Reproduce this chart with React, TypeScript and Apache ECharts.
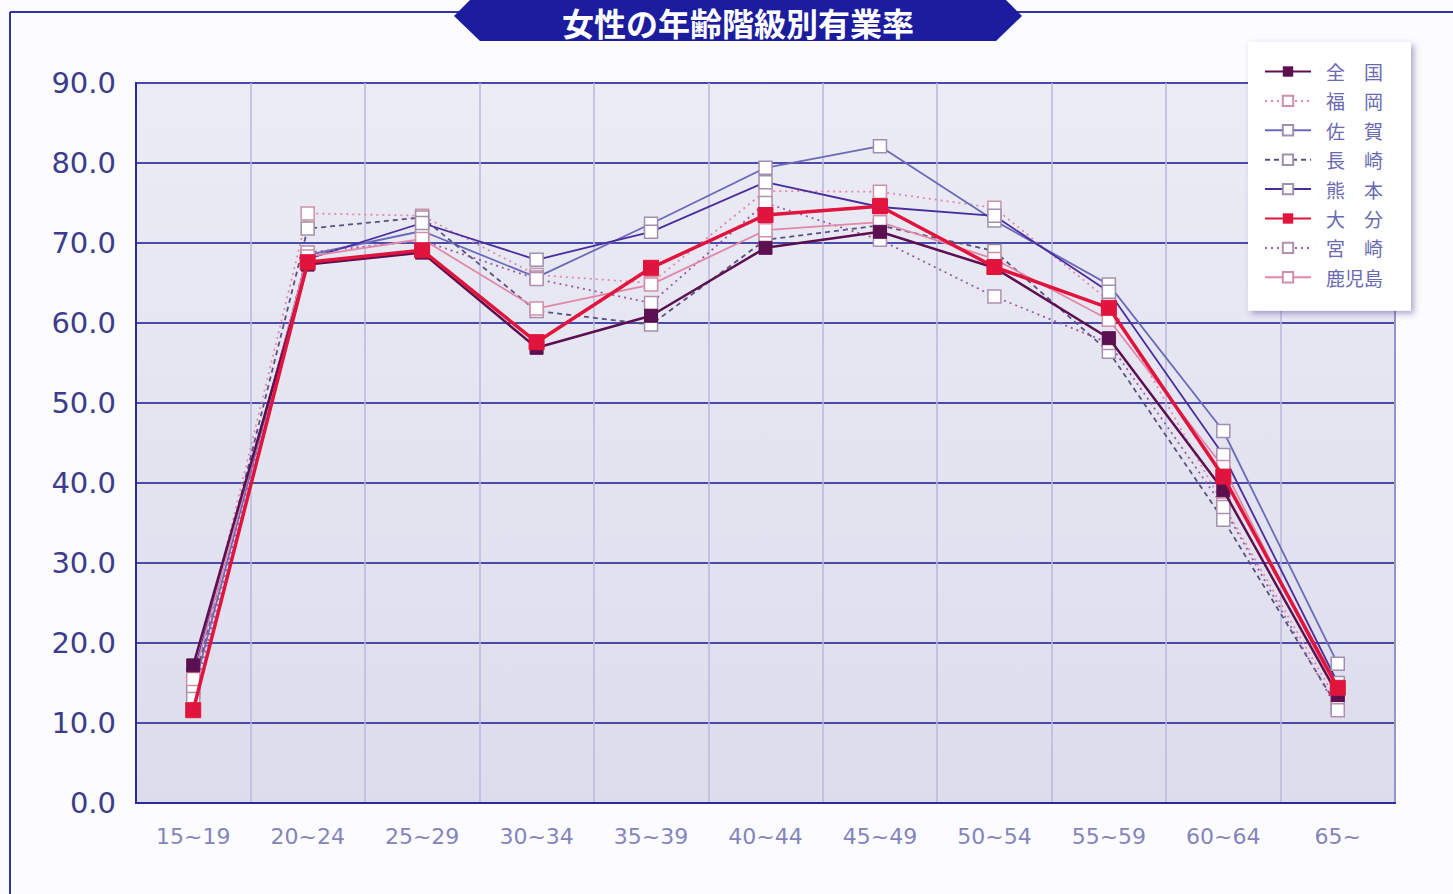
import React, { useEffect, useRef } from "react";
import * as echarts from "echarts";

const categories = ["15~19", "20~24", "25~29", "30~34", "35~39", "40~44", "45~49", "50~54", "55~59", "60~64", "65~"];

const zenkoku = [17.2, 67.3, 68.8, 56.9, 60.9, 69.4, 71.4, 66.9, 58.1, 39.1, 13.5];
const fukuoka = [15.0, 73.7, 73.4, 66.0, 65.0, 76.5, 76.4, 74.4, 62.8, 37.3, 12.6];
const saga = [14.0, 68.5, 71.5, 65.7, 72.4, 79.4, 82.1, 72.8, 64.8, 46.5, 17.4];
const nagasaki = [14.5, 71.8, 73.2, 61.5, 59.8, 70.4, 72.2, 69.0, 56.4, 35.4, 12.0];
const kumamoto = [16.0, 68.0, 72.5, 67.9, 71.4, 77.6, 74.5, 73.4, 63.9, 43.5, 15.0];
const oita = [11.6, 67.6, 69.1, 57.6, 66.9, 73.5, 74.6, 67.0, 61.9, 40.8, 14.4];
const miyazaki = [13.0, 68.8, 70.3, 65.5, 62.5, 75.0, 70.4, 63.3, 57.5, 37.0, 11.6];
const kagoshima = [15.5, 68.3, 70.5, 61.8, 64.8, 71.6, 72.6, 68.0, 60.4, 42.0, 13.5];

const legendNames = ["全　国", "福　岡", "佐　賀", "長　崎", "熊　本", "大　分", "宮　崎", "鹿児島"];
const titleText = "女性の年齢階級別有業率";

export default function App() {
  const ref = useRef<HTMLDivElement>(null);
  useEffect(() => {
    if (!ref.current) return;
    const chart = echarts.init(ref.current, undefined, { renderer: "svg" });
    const openLine = (name: string, data: number[], color: string, type: any, border: string, z = 2) => ({
      name,
      type: "line",
      data,
      z,
      symbol: "rect",
      symbolSize: 13,
      lineStyle: { color, width: 1.8, type },
      itemStyle: { color: "#ffffff", borderColor: border, borderWidth: 1.5 },
    });
    const option: any = {
      animation: false,
      backgroundColor: "#fcfcfe",
      textStyle: { fontFamily: "Noto Sans CJK JP" },
      grid: {
        left: 136,
        right: 58,
        top: 83,
        bottom: 91,
        show: true,
        backgroundColor: new echarts.graphic.LinearGradient(0, 0, 0, 1, [
          { offset: 0, color: "#ececf6" },
          { offset: 1, color: "#dcdcec" },
        ]),
        borderColor: "#2a2a9c",
        borderWidth: 2,
      },
      legend: {
        orient: "vertical",
        left: 1248,
        top: 42,
        data: legendNames,
        itemWidth: 46,
        itemHeight: 13,
        itemGap: 10.4,
        padding: [20, 28, 24, 16],
        backgroundColor: "#ffffff",
        shadowColor: "rgba(80,60,140,0.45)",
        shadowBlur: 6,
        shadowOffsetX: 3,
        shadowOffsetY: 3,
        textStyle: { color: "#6a6ab0", fontSize: 19, fontFamily: "Noto Sans CJK JP", padding: [0, 0, 0, 10] },
      },
      xAxis: {
        type: "category",
        data: categories,
        boundaryGap: true,
        axisLine: { show: true, lineStyle: { color: "#2a2a9c", width: 2 } },
        axisTick: { show: false },
        axisLabel: { color: "#8484bc", fontSize: 22, margin: 22, fontFamily: "DejaVu Sans", interval: 0 },
        splitLine: { show: true, interval: 0, lineStyle: { color: "#b8b8dc", width: 1.5 } },
      },
      yAxis: {
        type: "value",
        min: 0,
        max: 90,
        interval: 10,
        axisLine: { show: true, lineStyle: { color: "#2a2a9c", width: 2 } },
        axisTick: { show: false },
        axisLabel: {
          color: "#3c3c8c",
          fontSize: 29,
          margin: 20,
          fontFamily: "DejaVu Sans",
          formatter: (v: number) => v.toFixed(1),
        },
        splitLine: { show: true, lineStyle: { color: "#4a4aa8", width: 1.8 } },
      },
      graphic: [
        { type: "line", shape: { x1: 10, y1: 12, x2: 10, y2: 894 }, style: { stroke: "#3434a4", lineWidth: 2 } },
        { type: "line", shape: { x1: 10, y1: 12, x2: 460, y2: 12 }, style: { stroke: "#3434a4", lineWidth: 2 } },
        { type: "line", shape: { x1: 1016, y1: 12, x2: 1453, y2: 12 }, style: { stroke: "#3434a4", lineWidth: 2 } },
        {
          type: "polygon",
          shape: { points: [[454, 16], [480, -10], [996, -10], [1022, 16], [996, 41], [480, 41]] },
          style: { fill: "#1c1c9e" },
        },
        {
          type: "text",
          x: 738,
          y: 22,
          style: {
            text: titleText,
            fill: "#ffffff",
            font: "bold 32px 'Noto Sans CJK JP'",
            align: "center",
            verticalAlign: "middle",
          },
        },
      ],
      series: [
        openLine("福　岡", fukuoka, "#e08aa8", [2, 4], "#d090a8"),
        openLine("佐　賀", saga, "#6a6ab8", "solid", "#a090b0"),
        openLine("長　崎", nagasaki, "#5a5080", [5, 4], "#a090a8"),
        openLine("熊　本", kumamoto, "#4a2c9c", "solid", "#a090b0"),
        openLine("宮　崎", miyazaki, "#9a5aa0", [2, 4], "#b090b0"),
        openLine("鹿児島", kagoshima, "#e088a8", "solid", "#d090a8"),
        {
          name: "全　国",
          type: "line",
          data: zenkoku,
          z: 4,
          symbol: "rect",
          symbolSize: 13,
          lineStyle: { color: "#5c1050", width: 2.5 },
          itemStyle: { color: "#5c1050", borderColor: "#5c1050" },
        },
        {
          name: "大　分",
          type: "line",
          data: oita,
          z: 5,
          symbol: "rect",
          symbolSize: 15,
          lineStyle: { color: "#e0143c", width: 3.5 },
          itemStyle: { color: "#e0143c", borderColor: "#e0143c" },
        },
      ],
    };
    chart.setOption(option);
    return () => chart.dispose();
  }, []);
  return <div ref={ref} style={{ position: "fixed", left: 0, top: 0, width: 1453, height: 894 }} />;
}
